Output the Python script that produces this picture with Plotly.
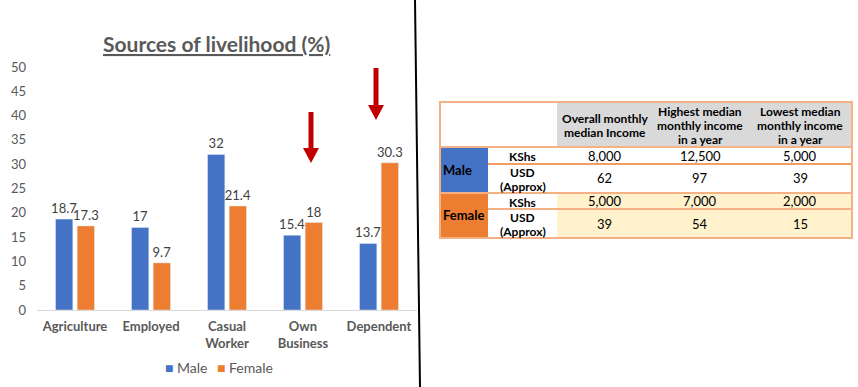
import plotly.graph_objects as go

# ---------------- data ----------------
categories = ["Agriculture", "Employed", "Casual<br>Worker", "Own<br>Business", "Dependent"]
male_pct = [18.7, 17, 32, 15.4, 13.7]
female_pct = [17.3, 9.7, 21.4, 18, 30.3]
y_ticks = [0, 5, 10, 15, 20, 25, 30, 35, 40, 45, 50]
series_names = ["Male", "Female"]

table_headers = [["Overall monthly", "median Income"],
                 ["Highest median", "monthly income", "in a year"],
                 ["Lowest median", "monthly income", "in a year"]]
groups = ["Male", "Female"]
row_units = [["KShs"], ["USD", "(Approx)"]]
male_kshs = ["8,000", "12,500", "5,000"]
male_usd = ["62", "97", "39"]
female_kshs = ["5,000", "7,000", "2,000"]
female_usd = ["39", "54", "15"]

W, H = 858, 387
FONT = "Lato"
BLUE = "#4472C4"
ORANGE = "#ED7D31"
GREY = "#595959"


def px(x):
    return x / W


def py(y):
    return 1 - y / H


fig = go.Figure()
for name, vals, col in [(series_names[0], male_pct, BLUE), (series_names[1], female_pct, ORANGE)]:
    fig.add_trace(go.Bar(name=name, x=categories, y=vals, marker_color=col,
                         texttemplate="%{y}", textposition="outside",
                         textfont=dict(color="#404040", size=13, family=FONT),
                         constraintext="none", cliponaxis=False, showlegend=False))

shapes = []
annotations = []

# title
annotations.append(dict(text="<b><u>Sources of livelihood (%)</u></b>", x=px(216), y=py(43),
                        xref="paper", yref="paper", showarrow=False,
                        font=dict(size=21, color=GREY, family=FONT), xanchor="center", yanchor="middle"))

# legend (custom, compact like the reference)
annotations.append(dict(text=f"<span style='color:{BLUE}'>■</span> {series_names[0]}", x=px(163), y=py(367),
                        xref="paper", yref="paper", showarrow=False, xanchor="left", yanchor="middle",
                        font=dict(size=14, color=GREY, family=FONT)))
annotations.append(dict(text=f"<span style='color:{ORANGE}'>■</span> {series_names[1]}", x=px(215), y=py(367),
                        xref="paper", yref="paper", showarrow=False, xanchor="left", yanchor="middle",
                        font=dict(size=14, color=GREY, family=FONT)))


# red arrows (decorative)
def down_arrow(xc, top, tip, shaft_w=5, head_w=16, head_h=15):
    hb = tip - head_h
    path = (f"M {px(xc - shaft_w/2)},{py(top)} L {px(xc + shaft_w/2)},{py(top)} "
            f"L {px(xc + shaft_w/2)},{py(hb)} L {px(xc + head_w/2)},{py(hb)} "
            f"L {px(xc)},{py(tip)} L {px(xc - head_w/2)},{py(hb)} "
            f"L {px(xc - shaft_w/2)},{py(hb)} Z")
    return dict(type="path", path=path, xref="paper", yref="paper",
                fillcolor="#C00000", line=dict(width=0))


shapes.append(down_arrow(311, 112, 163))
shapes.append(down_arrow(376, 68, 120))

# vertical divider
shapes.append(dict(type="line", x0=px(415), y0=py(0), x1=px(420), y1=py(387),
                   xref="paper", yref="paper", line=dict(color="black", width=2)))

# ---------------- table ----------------
TL, TR = 440, 852
col_x = [440, 488, 557, 652, 748, 852]
row_y = [102, 147, 164, 193, 209, 238]


def rect(x0, y0, x1, y1, fill):
    shapes.append(dict(type="rect", x0=px(x0), x1=px(x1), y0=py(y0), y1=py(y1),
                       xref="paper", yref="paper", fillcolor=fill, line=dict(width=0), layer="below"))


def hline(x0, x1, y, color, w=1.5):
    shapes.append(dict(type="line", x0=px(x0), x1=px(x1), y0=py(y), y1=py(y),
                       xref="paper", yref="paper", line=dict(color=color, width=w)))


def text_lines(lines, x, yc, bold=False, anchor="center", size=12.5, step=14):
    n = len(lines)
    for k, t in enumerate(lines):
        y = yc + (k - (n - 1) / 2) * step
        annotations.append(dict(text=f"<b>{t}</b>" if bold else t, x=px(x), y=py(y),
                                xref="paper", yref="paper", showarrow=False, xanchor=anchor,
                                yanchor="middle", align="center",
                                font=dict(size=size, color="black", family=FONT)))


rect(col_x[2], row_y[0], TR, row_y[1], "#D9D9D9")
rect(col_x[0], row_y[1], col_x[1], row_y[3], BLUE)
rect(col_x[0], row_y[3], col_x[1], row_y[5], ORANGE)
rect(col_x[2], row_y[3], TR, row_y[5], "#FFF2CC")

hline(TL, TR, row_y[1], "#F4B183", 2)
hline(col_x[1], TR, row_y[2], ORANGE, 1.5)
hline(TL, TR, row_y[3], "#F4B183", 2)
hline(col_x[1], TR, row_y[4], "#F4B183", 2)
shapes.append(dict(type="rect", x0=px(TL), x1=px(TR), y0=py(row_y[0]), y1=py(row_y[5]),
                   xref="paper", yref="paper", line=dict(color="#F4B183", width=2)))

for i, h in enumerate(table_headers):
    text_lines(h, (col_x[2 + i] + col_x[3 + i]) / 2, (row_y[0] + row_y[1]) / 2 + 1,
               bold=True, size=12, step=14)

text_lines([groups[0]], col_x[0] + 1, (row_y[1] + row_y[3]) / 2, bold=True, anchor="left", size=13)
text_lines([groups[1]], col_x[0] + 1, (row_y[3] + row_y[5]) / 2, bold=True, anchor="left", size=13)

rows = [male_kshs, male_usd, female_kshs, female_usd]
units = [row_units[0], row_units[1], row_units[0], row_units[1]]
for r in range(4):
    yc = (row_y[1 + r] + row_y[2 + r]) / 2
    text_lines(units[r], (col_x[1] + col_x[2]) / 2, yc + 1, bold=True, size=12, step=14.5)
    for c in range(3):
        text_lines([rows[r][c]], (col_x[2 + c] + col_x[3 + c]) / 2, yc, size=13)

fig.update_layout(
    width=W, height=H, margin=dict(l=0, r=0, t=0, b=0, pad=0, autoexpand=False), autosize=False,
    paper_bgcolor="white", plot_bgcolor="white",
    barmode="group", bargap=0.43, bargroupgap=0.2,
    font=dict(family=FONT, color=GREY),
    xaxis=dict(domain=[px(37), px(417)], showline=True, linecolor="#D9D9D9", linewidth=1,
               tickfont=dict(size=13, color=GREY, family=FONT), ticks="", ticklabelstandoff=4,
               tickprefix="<b>", ticksuffix="</b>", fixedrange=True, automargin=False),
    yaxis=dict(domain=[py(310), py(67)], range=[0, 50], tickvals=y_ticks, showgrid=False,
               zeroline=False, showline=False, tickfont=dict(size=13, color=GREY, family=FONT),
               ticklabelstandoff=10, automargin=False),
    showlegend=False,
    shapes=shapes, annotations=annotations,
)

fig.write_html("out.html", config={"responsive": False, "displayModeBar": False},
               post_script="document.body.style.margin='0';document.body.style.overflow='hidden';")
